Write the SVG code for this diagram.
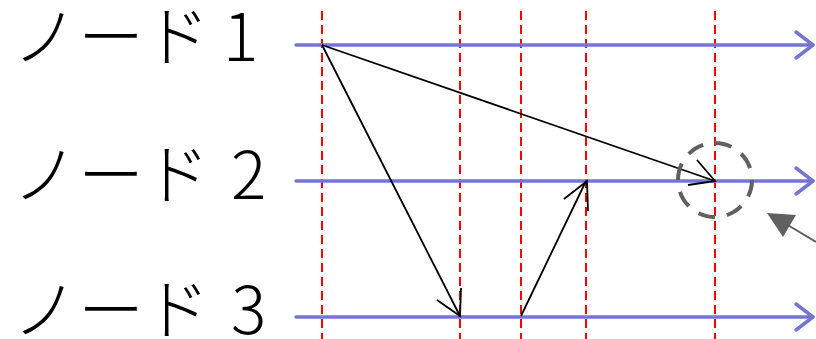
<svg xmlns="http://www.w3.org/2000/svg" width="816" height="339" viewBox="0 0 816 339">
<style>
.lbl{font-family:"Noto Sans CJK JP","Noto Sans",sans-serif;font-size:66px;font-weight:300;fill:#000}
.tl{stroke:#7575d2;stroke-width:3.5;fill:none;stroke-linecap:round;stroke-linejoin:round}
.grid{stroke:#ff0000;stroke-width:2;stroke-dasharray:9 5;fill:none}
.msg{stroke:#000;stroke-width:1.8;fill:none}
</style>
<rect width="816" height="339" fill="#fff"/>
<g id="grid">
<line class="grid" x1="322" y1="11" x2="322" y2="339"/>
<line class="grid" x1="460" y1="11" x2="460" y2="339"/>
<line class="grid" x1="521" y1="11" x2="521" y2="339"/>
<line class="grid" x1="586" y1="11" x2="586" y2="339"/>
<line class="grid" x1="715" y1="11" x2="715" y2="339"/>
</g>
<g id="node1">
<text class="lbl" x="12" y="61">ノード <tspan x="223">1</tspan></text>
<line class="tl" x1="296" y1="45" x2="813" y2="45"/>
<polyline class="tl" points="796,32 813,45 796,58"/>
</g>
<g id="node2">
<text class="lbl" x="12" y="199">ノード <tspan x="231">2</tspan></text>
<line class="tl" x1="296" y1="181" x2="813" y2="181"/>
<polyline class="tl" points="796,168 813,181 796,194"/>
</g>
<g id="node3">
<text class="lbl" x="12" y="334">ノード <tspan x="231">3</tspan></text>
<line class="tl" x1="296" y1="317" x2="813" y2="317"/>
<polyline class="tl" points="796,304 813,317 796,330"/>
</g>
<g id="connectors">
<line class="msg" x1="322" y1="45" x2="460" y2="316"/>
<polyline class="msg" points="437,300 460,316 461,288"/>
<line class="msg" x1="521" y1="316" x2="586" y2="181"/>
<polyline class="msg" points="564,199 587,181 588,211"/>
<line class="msg" x1="322" y1="45" x2="715" y2="181"/>
<polyline class="msg" points="697,160 715,181 688,185"/>
</g>
<g id="marker">
<circle cx="715" cy="180" r="37" fill="none" stroke="#606060" stroke-width="4" stroke-dasharray="17 12"/>
<line x1="816" y1="242" x2="786" y2="224" stroke="#606060" stroke-width="2"/>
<polygon points="767,213 796,215 783,237" fill="#606060"/>
</g>
</svg>
